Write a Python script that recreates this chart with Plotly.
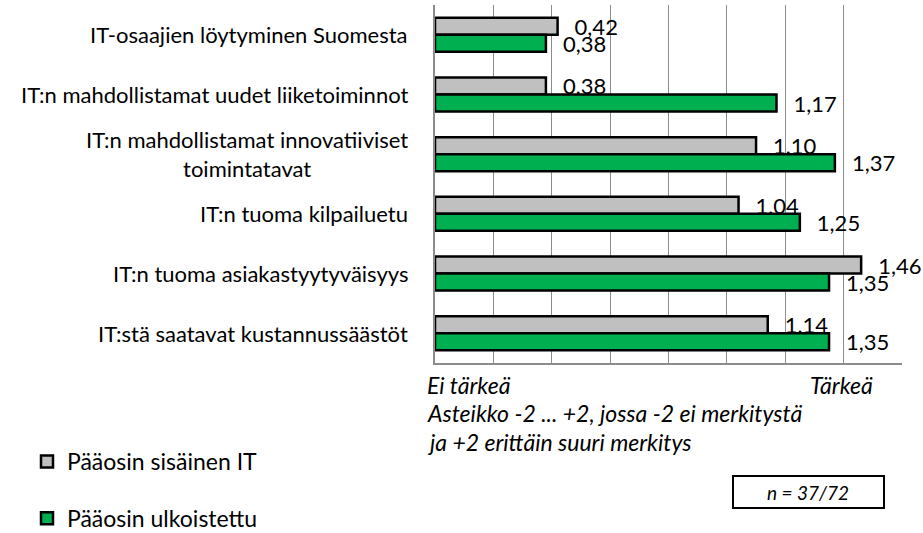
import plotly.graph_objects as go

# categories (top to bottom) and values for both series
categories = [
    "IT-osaajien löytyminen Suomesta",
    "IT:n mahdollistamat uudet liiketoiminnot",
    "IT:n mahdollistamat innovatiiviset<br>toimintatavat",
    "IT:n tuoma kilpailuetu",
    "IT:n tuoma asiakastyytyväisyys",
    "IT:stä saatavat kustannussäästöt",
]
sisainen = [0.42, 0.38, 1.10, 1.04, 1.46, 1.14]
ulkoistettu = [0.38, 1.17, 1.37, 1.25, 1.35, 1.35]
series_names = ["Pääosin sisäinen IT", "Pääosin ulkoistettu"]

FONT = "Lato"
ids = [str(i) for i in range(len(categories))]

# plot area margins in pixels
W, H = 923, 533
L, R, T, B = 435, 21, 5, 170
PW = W - L - R
PH = H - T - B


def px(x):
    return (x - L) / PW


def py(y):
    return (PH - (y - T)) / PH


label_fmt = "\u00a0\u00a0\u2009%{x:.2f}"

fig = go.Figure()
fig.add_trace(go.Bar(
    y=ids, x=sisainen, orientation="h", name=series_names[0],
    legendgroup="a",
    marker=dict(color="#C0C0C0", line=dict(color="black", width=2.5)),
    texttemplate=label_fmt, textposition="outside",
    textfont=dict(size=22, color="black", family=FONT),
    constraintext="none", cliponaxis=False,
))
fig.add_trace(go.Bar(
    y=ids, x=ulkoistettu, orientation="h", name=series_names[1],
    legendgroup="b",
    marker=dict(color="#00B050", line=dict(color="black", width=2.5)),
    texttemplate=label_fmt, textposition="outside",
    textfont=dict(size=22, color="black", family=FONT),
    constraintext="none", cliponaxis=False,
))

# category labels, centered multi-line like the original
for cid, label in zip(ids, categories):
    fig.add_annotation(
        x=0, xref="paper", y=cid, yref="y", xshift=-25,
        text=label, showarrow=False, xanchor="right", align="center",
        font=dict(size=22, family=FONT, color="black"),
    )

italic = dict(size=23, family=FONT, color="black")
fig.add_annotation(x=0, xref="paper", y=py(385), yref="paper", xshift=-10,
                   text="<i>Ei tärkeä</i>", showarrow=False,
                   xanchor="left", yanchor="middle", font=italic)
fig.add_annotation(x=1, xref="paper", y=py(385), yref="paper", xshift=-27,
                   text="<i>Tärkeä</i>", showarrow=False,
                   xanchor="right", yanchor="middle", font=italic)
fig.add_annotation(x=0, xref="paper", y=py(413), yref="paper", xshift=-10,
                   text="<i>Asteikko -2 ... +2, jossa -2 ei merkitystä</i>",
                   showarrow=False, xanchor="left", yanchor="middle",
                   font=italic)
fig.add_annotation(x=0, xref="paper", y=py(442), yref="paper", xshift=-10,
                   text="<i>ja +2 erittäin suuri merkitys</i>",
                   showarrow=False, xanchor="left", yanchor="middle",
                   font=italic)
fig.add_annotation(x=px(808), xref="paper", y=py(492), yref="paper",
                   text="<i>n = 37/72</i>", showarrow=False,
                   xanchor="center", yanchor="middle",
                   font=dict(size=19, family=FONT, color="black"))
fig.add_shape(type="rect", xref="paper", yref="paper",
              x0=px(733), x1=px(884), y0=py(476), y1=py(508),
              line=dict(color="black", width=2))

fig.update_layout(
    width=W, height=H,
    margin=dict(l=L, r=R, t=T, b=B, pad=0, autoexpand=False),
    barmode="group", bargap=0.43, bargroupgap=0,
    plot_bgcolor="white", paper_bgcolor="white",
    separators=",.",
    font=dict(family=FONT, size=18, color="black"),
    showlegend=True,
    legend=dict(x=px(27), y=py(440), xanchor="left", yanchor="top",
                font=dict(size=23, family=FONT), tracegroupgap=24,
                itemwidth=30, traceorder="grouped"),
    xaxis=dict(range=[0, 1.6], dtick=0.2, showticklabels=False,
               showgrid=True, gridcolor="#8C8C8C", gridwidth=1,
               zeroline=False, showline=True, linecolor="#8C8C8C",
               linewidth=1.5, ticks=""),
    yaxis=dict(autorange="reversed", showticklabels=False, showgrid=False,
               showline=True, linecolor="#8C8C8C", linewidth=1.5,
               zeroline=False, ticks=""),
)

# drop the default page margin so the figure fills the window exactly
fig.write_html("out.html", config={"displayModeBar": False},
               post_script="document.body.style.margin='0';"
                           "document.body.style.overflow='hidden';")
